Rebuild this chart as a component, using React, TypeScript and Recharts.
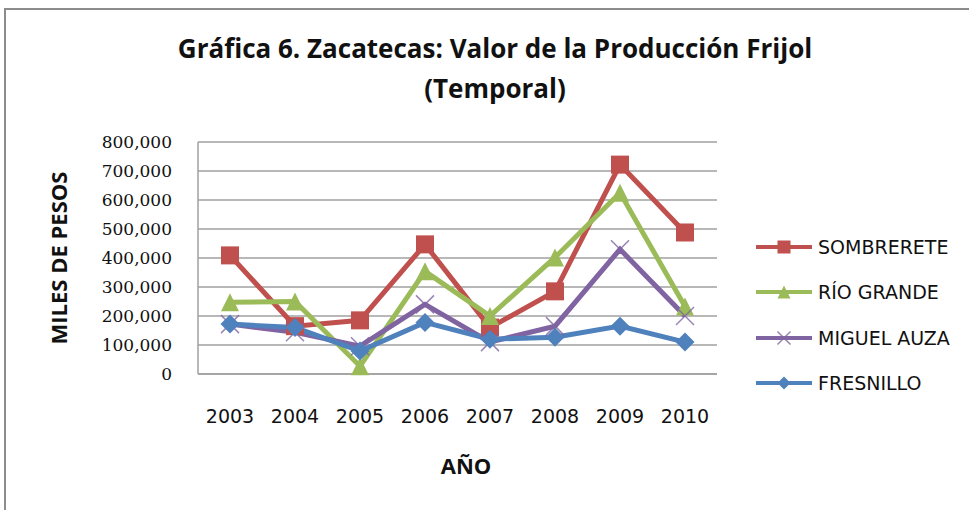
import React from "react"
import { LineChart, Line, CartesianGrid, XAxis, YAxis } from "recharts"

const years = ["2003", "2004", "2005", "2006", "2007", "2008", "2009", "2010"]
const sombrerete = [409000, 165000, 185000, 447000, 160000, 285000, 722000, 488000]
const rioGrande = [247000, 250000, 27000, 354000, 200000, 402000, 625000, 233000]
const miguelAuza = [172000, 144000, 96000, 240000, 110000, 165000, 430000, 200000]
const fresnillo = [172000, 160000, 79000, 178000, 120000, 127000, 165000, 110000]
const yTicks = [0, 100000, 200000, 300000, 400000, 500000, 600000, 700000, 800000]

const data = years.map((year, i) => ({
  year,
  sombrerete: sombrerete[i],
  rioGrande: rioGrande[i],
  miguelAuza: miguelAuza[i],
  fresnillo: fresnillo[i],
}))

const RED = "#C0504D"
const GREEN = "#9BBB59"
const PURPLE = "#8064A2"
const BLUE = "#4F81BD"

type Shape = "square" | "triangle" | "cross" | "diamond"

function Marker({ shape, cx, cy, size, color }: { shape: Shape; cx: number; cy: number; size: number; color: string }) {
  const h = size / 2
  if (shape === "square") {
    return <rect x={cx - h} y={cy - h} width={size} height={size} fill={color} />
  }
  if (shape === "triangle") {
    return <polygon points={`${cx},${cy - h} ${cx + h},${cy + h} ${cx - h},${cy + h}`} fill={color} />
  }
  if (shape === "diamond") {
    return <polygon points={`${cx},${cy - h} ${cx + h},${cy} ${cx},${cy + h} ${cx - h},${cy}`} fill={color} />
  }
  return (
    <g stroke={color} strokeWidth={1.5} opacity={0.8}>
      <line x1={cx - h} y1={cy - h} x2={cx + h} y2={cy + h} />
      <line x1={cx - h} y1={cy + h} x2={cx + h} y2={cy - h} />
    </g>
  )
}

const dotFor = (shape: Shape, color: string, size: number) => (props: any) => (
  <Marker key={`${shape}-${props.index}`} shape={shape} cx={props.cx} cy={props.cy} size={size} color={color} />
)

const series = [
  { key: "sombrerete", name: "SOMBRERETE", color: RED, shape: "square" as Shape, size: 18 },
  { key: "rioGrande", name: "RÍO GRANDE", color: GREEN, shape: "triangle" as Shape, size: 18 },
  { key: "miguelAuza", name: "MIGUEL AUZA", color: PURPLE, shape: "cross" as Shape, size: 18 },
  { key: "fresnillo", name: "FRESNILLO", color: BLUE, shape: "diamond" as Shape, size: 19 },
]

const fmt = (v: number) => v.toLocaleString("en-US")

export default function App() {
  return (
    <div style={{ position: "absolute", left: 0, top: 0, width: 969, height: 510, overflow: "hidden", background: "#fff" }}>
      <div style={{ position: "absolute", left: 4, top: 8, width: 1100, height: 700, borderLeft: "2px solid #8c8c8c", borderTop: "2px solid #8c8c8c" }} />
      <div style={{ position: "absolute", left: 0, top: 28, width: 990, textAlign: "center", fontFamily: "Open Sans", fontWeight: 700, fontSize: 26, lineHeight: "40px", color: "#111" }}>
        Gráfica 6. Zacatecas: Valor de la Producción Frijol
        <br />
        (Temporal)
      </div>
      <div style={{ position: "absolute", left: 58, top: 258, transform: "translate(-50%, -50%) rotate(-90deg)", whiteSpace: "nowrap", fontFamily: "Open Sans", fontWeight: 700, fontSize: 22, color: "#111" }}>
        MILES DE PESOS
      </div>
      <div style={{ position: "absolute", left: 466, top: 465, transform: "translate(-50%, -50%)", fontFamily: "Open Sans", fontWeight: 700, fontSize: 22, color: "#111" }}>
        AÑO
      </div>
      <LineChart width={969} height={510} data={data} margin={{ top: 142, right: 252, bottom: 106, left: 0 }}>
        <CartesianGrid vertical={false} stroke="#a0a0a0" strokeWidth={1.5} />
        <XAxis
          dataKey="year"
          tickLine={false}
          tickSize={0}
          tickMargin={36}
          padding={{ left: 32, right: 32 }}
          axisLine={{ stroke: "#a0a0a0", strokeWidth: 1.5 }}
          tick={{ fill: "#111", fontFamily: "DejaVu Sans", fontSize: 19 }}
          interval={0}
        />
        <YAxis
          width={198}
          domain={[0, 800000]}
          ticks={yTicks}
          tickFormatter={fmt}
          tickLine={false}
          tickSize={0}
          tickMargin={26}
          axisLine={{ stroke: "#a0a0a0", strokeWidth: 1.5 }}
          tick={{ fill: "#111", fontFamily: "DejaVu Serif", fontSize: 17 }}
        />
        {series.map((s) => (
          <Line
            key={s.key}
            type="linear"
            dataKey={s.key}
            name={s.name}
            stroke={s.color}
            strokeWidth={5}
            dot={dotFor(s.shape, s.color, s.size)}
            activeDot={false}
            isAnimationActive={false}
          />
        ))}
      </LineChart>
      <div style={{ position: "absolute", left: 756, top: 224 }}>
        {series.map((s) => (
          <div key={s.key} style={{ display: "flex", alignItems: "center", height: 45.5 }}>
            <svg width={56} height={20}>
              <line x1={0} y1={10} x2={56} y2={10} stroke={s.color} strokeWidth={4} />
              <Marker shape={s.shape} cx={28} cy={10} size={s.shape === "cross" ? 13 : 13} color={s.color} />
            </svg>
            <span style={{ marginLeft: 6, fontFamily: "DejaVu Sans", fontSize: 19, color: "#111", whiteSpace: "nowrap" }}>{s.name}</span>
          </div>
        ))}
      </div>
    </div>
  )
}
